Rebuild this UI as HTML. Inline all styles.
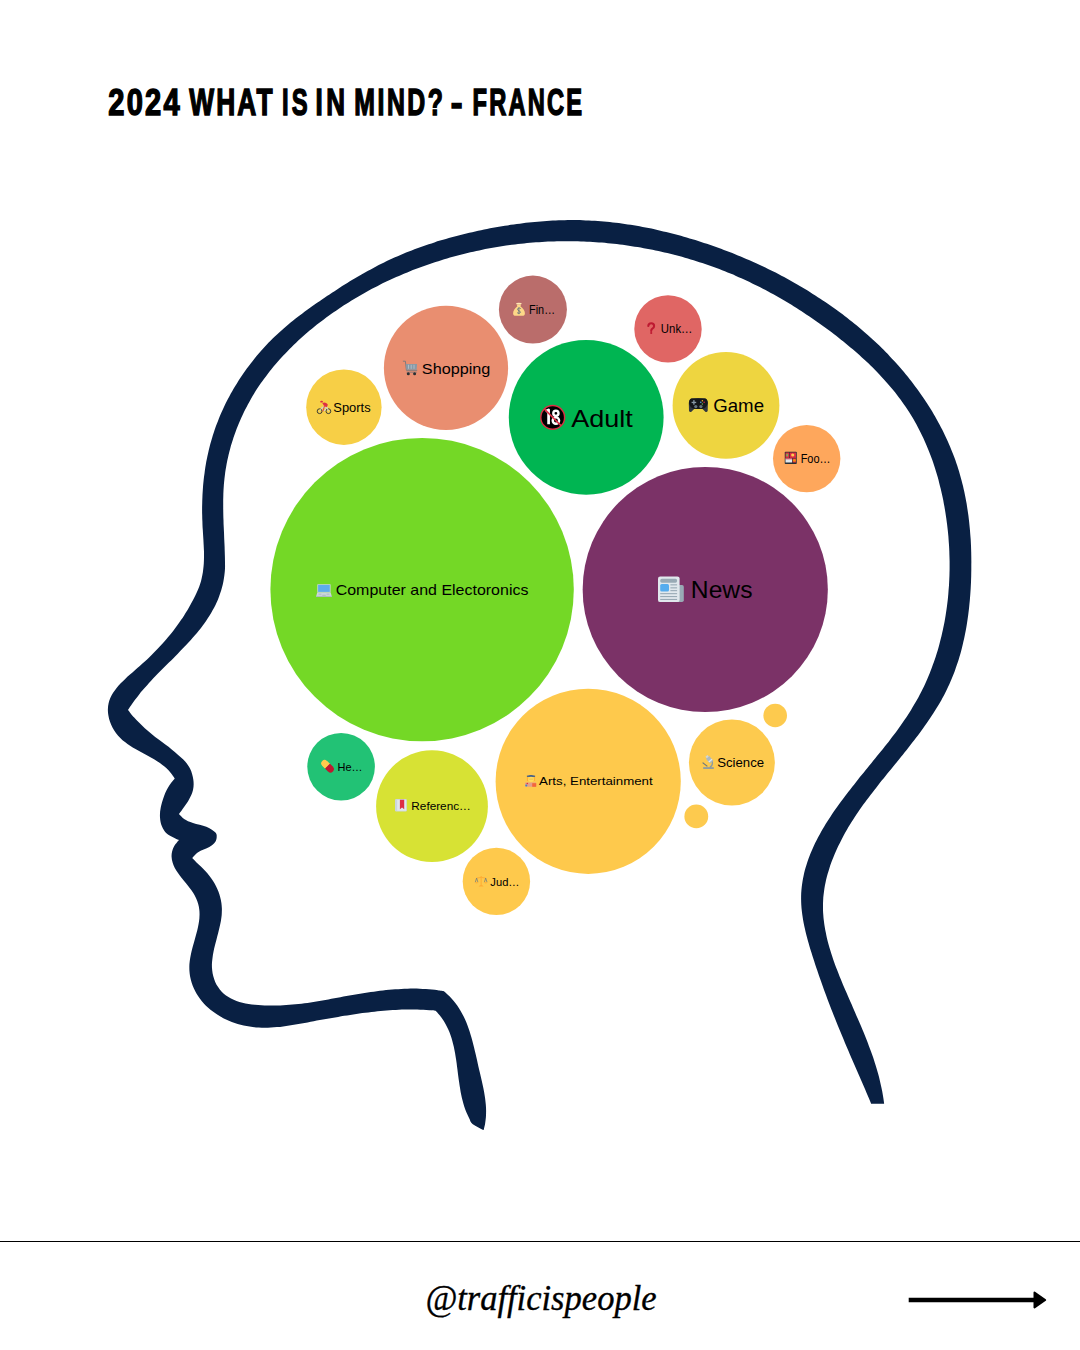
<!DOCTYPE html>
<html><head><meta charset="utf-8"><title>2024 What is in mind - France</title><style>
html,body{margin:0;padding:0;background:#fff;}
body{width:1080px;height:1350px;overflow:hidden;position:relative;}
svg{position:absolute;left:0;top:0;display:block;}
</style></head><body>
<svg width="1080" height="1350" viewBox="0 0 1080 1350">
<rect width="1080" height="1350" fill="#ffffff"/>
<text transform="translate(108.34,0) scale(0.7770,1)" x="0" y="114.90" font-family="Liberation Sans, sans-serif" font-weight="bold" font-size="37.40" fill="#000" stroke="#000" stroke-width="1.50" stroke-linejoin="miter" textLength="91.79" lengthAdjust="spacing">2024</text>
<text transform="translate(189.29,0) scale(0.7034,1)" x="0" y="114.90" font-family="Liberation Sans, sans-serif" font-weight="bold" font-size="37.40" fill="#000" stroke="#000" stroke-width="1.50" stroke-linejoin="miter" textLength="118.26" lengthAdjust="spacing">WHAT</text>
<text transform="translate(282.08,0) scale(0.6360,1)" x="0" y="114.90" font-family="Liberation Sans, sans-serif" font-weight="bold" font-size="37.40" fill="#000" stroke="#000" stroke-width="1.50" stroke-linejoin="miter" textLength="40.33" lengthAdjust="spacing">IS</text>
<text transform="translate(315.53,0) scale(0.6939,1)" x="0" y="114.90" font-family="Liberation Sans, sans-serif" font-weight="bold" font-size="37.40" fill="#000" stroke="#000" stroke-width="1.50" stroke-linejoin="miter" textLength="42.35" lengthAdjust="spacing">IN</text>
<text transform="translate(354.36,0) scale(0.6643,1)" x="0" y="114.90" font-family="Liberation Sans, sans-serif" font-weight="bold" font-size="37.40" fill="#000" stroke="#000" stroke-width="1.50" stroke-linejoin="miter" textLength="133.25" lengthAdjust="spacing">MIND?</text>
<text transform="translate(450.86,0) scale(0.8440,1)" x="0" y="114.90" font-family="Liberation Sans, sans-serif" font-weight="bold" font-size="37.40" fill="#000" stroke="#000" stroke-width="1.50" stroke-linejoin="miter" textLength="13.95" lengthAdjust="spacingAndGlyphs">-</text>
<text transform="translate(472.50,0) scale(0.6338,1)" x="0" y="114.90" font-family="Liberation Sans, sans-serif" font-weight="bold" font-size="37.40" fill="#000" stroke="#000" stroke-width="1.50" stroke-linejoin="miter" textLength="172.90" lengthAdjust="spacing">FRANCE</text>
<path d="M483.6,1130.1 C483.6,1130.1 484.7,1125.8 485.1,1123.7 C485.4,1121.6 485.7,1119.4 485.9,1117.3 C486.0,1115.2 486.1,1113.1 486.1,1110.9 C486.1,1108.8 486.0,1106.7 485.8,1104.6 C485.6,1102.5 485.4,1100.4 485.1,1098.2 C484.8,1096.1 484.5,1094.0 484.1,1091.9 C483.7,1089.8 483.3,1087.7 482.8,1085.5 C482.4,1083.4 481.9,1081.3 481.4,1079.2 C480.9,1077.1 480.4,1074.9 479.9,1072.8 C479.4,1070.7 478.9,1068.5 478.4,1066.4 C477.9,1064.3 477.5,1062.1 477.0,1060.0 C476.5,1057.8 476.0,1055.7 475.5,1053.6 C475.0,1051.4 474.5,1049.3 474.0,1047.2 C473.5,1045.1 473.0,1043.0 472.4,1040.9 C471.8,1038.8 471.3,1036.7 470.6,1034.7 C470.0,1032.6 469.3,1030.6 468.6,1028.5 C467.9,1026.5 467.2,1024.5 466.4,1022.6 C465.5,1020.6 464.7,1018.7 463.8,1016.8 C462.8,1014.9 461.8,1013.0 460.8,1011.2 C459.7,1009.3 458.6,1007.5 457.4,1005.8 C456.2,1004.0 454.9,1002.3 453.5,1000.7 C452.1,999.0 450.6,997.4 449.0,995.8 C447.5,994.2 444.0,991.2 444.0,991.2 C444.0,991.2 440.0,990.6 437.9,990.3 C435.9,990.0 433.9,989.7 431.9,989.5 C429.9,989.3 427.8,989.2 425.8,989.0 C423.8,988.9 421.7,988.8 419.7,988.7 C417.7,988.6 415.6,988.6 413.6,988.6 C411.5,988.6 409.5,988.6 407.5,988.7 C405.4,988.7 403.4,988.8 401.3,988.9 C399.3,989.0 397.2,989.1 395.2,989.3 C393.2,989.4 391.1,989.6 389.1,989.8 C387.0,990.0 385.0,990.2 383.0,990.5 C380.9,990.7 378.9,991.0 376.8,991.2 C374.8,991.5 372.8,991.8 370.7,992.1 C368.7,992.4 366.7,992.7 364.6,993.0 C362.6,993.3 360.6,993.6 358.5,994.0 C356.5,994.3 354.5,994.7 352.5,995.0 C350.4,995.4 348.4,995.7 346.4,996.1 C344.4,996.5 342.4,996.8 340.4,997.2 C338.4,997.5 336.4,997.9 334.4,998.3 C332.4,998.6 330.4,999.0 328.4,999.4 C326.4,999.7 324.4,1000.1 322.4,1000.4 C320.4,1000.8 318.4,1001.1 316.4,1001.4 C314.4,1001.8 312.5,1002.1 310.5,1002.4 C308.5,1002.7 306.5,1003.0 304.5,1003.2 C302.5,1003.5 300.5,1003.8 298.5,1004.0 C296.5,1004.2 294.4,1004.4 292.4,1004.6 C290.4,1004.8 288.4,1005.0 286.3,1005.1 C284.3,1005.2 282.2,1005.4 280.2,1005.4 C278.1,1005.5 276.1,1005.6 274.0,1005.6 C271.9,1005.6 269.8,1005.6 267.7,1005.6 C265.6,1005.5 263.5,1005.4 261.4,1005.3 C259.3,1005.2 257.1,1005.0 255.0,1004.8 C252.8,1004.6 250.7,1004.3 248.6,1004.0 C246.5,1003.6 244.4,1003.2 242.4,1002.7 C240.4,1002.2 238.4,1001.7 236.5,1001.0 C234.6,1000.3 232.8,999.5 231.0,998.6 C229.3,997.7 227.6,996.7 226.0,995.6 C224.5,994.4 223.0,993.1 221.7,991.7 C220.4,990.3 219.1,988.8 218.1,987.1 C217.0,985.5 216.0,983.7 215.2,981.9 C214.4,980.1 213.8,978.2 213.3,976.3 C212.7,974.3 212.4,972.3 212.2,970.3 C211.9,968.3 211.9,966.3 211.9,964.2 C212.0,962.2 212.2,960.1 212.5,958.0 C212.7,955.9 213.1,953.9 213.5,951.8 C213.9,949.7 214.4,947.6 214.9,945.6 C215.4,943.5 216.0,941.4 216.5,939.4 C217.0,937.3 217.6,935.2 218.1,933.2 C218.6,931.1 219.2,929.1 219.6,927.1 C220.1,925.0 220.5,923.0 220.9,921.0 C221.2,919.0 221.5,916.9 221.7,914.9 C221.8,912.9 221.9,910.9 221.9,908.9 C221.8,907.0 221.7,905.0 221.4,903.0 C221.1,901.0 220.7,899.1 220.2,897.2 C219.7,895.2 219.1,893.3 218.4,891.5 C217.7,889.6 216.8,887.8 215.9,886.0 C215.0,884.2 214.0,882.4 212.9,880.7 C211.8,879.0 210.6,877.3 209.3,875.7 C208.1,874.1 206.7,872.5 205.3,871.0 C203.9,869.5 202.4,868.1 200.9,866.6 C199.5,865.2 197.9,863.8 196.5,862.4 C195.0,860.9 192.2,858.1 192.2,858.1 C192.2,858.1 195.2,854.1 198.1,852.2 C200.9,850.4 206.5,848.7 209.3,847.0 C212.2,845.3 214.0,843.6 215.2,841.9 C216.4,840.2 216.7,838.3 216.7,836.7 C216.7,835.1 216.9,833.9 215.2,832.2 C213.5,830.5 210.0,828.2 206.3,826.7 C202.6,825.2 196.7,824.3 193.0,823.0 C189.3,821.7 186.4,820.4 184.1,818.9 C181.8,817.4 178.9,814.1 178.9,814.1 C178.9,814.1 186.2,804.4 188.5,800.4 C190.8,796.4 192.2,793.5 193.0,790.0 C193.8,786.5 193.8,783.2 193.3,779.6 C192.8,776.0 191.7,771.8 190.0,768.5 C188.3,765.2 186.4,762.8 183.3,759.6 C180.2,756.4 175.8,752.7 171.7,749.4 C167.6,746.1 163.2,743.1 158.7,739.6 C154.2,736.1 148.9,731.9 144.8,728.2 C140.7,724.5 137.0,720.7 134.2,717.6 C131.4,714.5 128.1,709.9 128.1,709.9 C128.1,709.9 130.3,706.5 131.5,704.8 C132.6,703.1 133.8,701.4 135.0,699.7 C136.3,698.1 137.5,696.5 138.8,694.9 C140.1,693.2 141.4,691.6 142.8,690.1 C144.1,688.5 145.5,686.9 146.9,685.4 C148.3,683.8 149.7,682.3 151.1,680.7 C152.6,679.2 154.0,677.7 155.5,676.1 C156.9,674.6 158.4,673.1 159.9,671.6 C161.4,670.1 162.9,668.6 164.4,667.1 C165.9,665.6 167.4,664.1 168.9,662.6 C170.4,661.1 171.9,659.7 173.4,658.2 C174.8,656.7 176.3,655.2 177.8,653.7 C179.3,652.2 180.8,650.7 182.2,649.1 C183.7,647.6 185.1,646.1 186.6,644.6 C188.0,643.1 189.4,641.5 190.8,640.0 C192.2,638.4 193.6,636.9 194.9,635.3 C196.3,633.7 197.6,632.1 198.9,630.5 C200.2,628.9 201.4,627.3 202.6,625.7 C203.9,624.0 205.1,622.4 206.2,620.7 C207.4,619.0 208.5,617.3 209.6,615.6 C210.6,613.9 211.7,612.1 212.6,610.3 C213.6,608.6 214.6,606.8 215.5,604.9 C216.3,603.1 217.2,601.3 218.0,599.4 C218.7,597.5 219.5,595.6 220.1,593.6 C220.8,591.7 221.4,589.7 221.9,587.7 C222.5,585.7 223.0,583.6 223.4,581.5 C223.8,579.4 224.1,577.3 224.4,575.1 C224.7,573.0 224.9,570.6 225.0,568.5 C225.1,566.4 225.0,564.5 225.0,562.5 C225.0,560.5 224.9,558.5 224.9,556.5 C224.8,554.5 224.8,552.5 224.7,550.5 C224.7,548.5 224.6,546.5 224.5,544.5 C224.4,542.5 224.3,540.5 224.2,538.5 C224.1,536.5 224.1,534.5 224.0,532.5 C223.9,530.5 223.8,528.4 223.7,526.4 C223.6,524.4 223.5,522.4 223.5,520.4 C223.4,518.4 223.3,516.4 223.3,514.4 C223.3,512.4 223.2,510.3 223.2,508.3 C223.2,506.3 223.2,504.3 223.2,502.3 C223.2,500.3 223.2,498.3 223.3,496.3 C223.3,494.3 223.4,492.3 223.5,490.3 C223.6,488.3 223.8,486.3 223.9,484.3 C224.1,482.3 224.3,480.3 224.5,478.3 C224.7,476.3 225.0,474.4 225.2,472.4 C225.5,470.4 225.8,468.4 226.2,466.4 C226.5,464.5 226.9,462.5 227.3,460.5 C227.7,458.6 228.2,456.6 228.6,454.7 C229.1,452.7 229.6,450.8 230.1,448.9 C230.6,446.9 231.2,445.0 231.8,443.1 C232.4,441.2 233.0,439.2 233.6,437.3 C234.3,435.4 234.9,433.5 235.6,431.7 C236.3,429.8 237.0,427.9 237.8,426.0 C238.5,424.2 239.3,422.3 240.1,420.5 C240.9,418.6 241.7,416.8 242.6,415.0 C243.4,413.1 244.3,411.3 245.2,409.5 C246.1,407.7 247.1,406.0 248.0,404.2 C249.0,402.4 249.9,400.7 250.9,398.9 C251.9,397.2 253.0,395.4 254.0,393.7 C255.1,392.0 256.1,390.3 257.2,388.6 C258.3,387.0 259.5,385.3 260.6,383.6 C261.7,382.0 262.9,380.3 264.1,378.7 C265.3,377.1 266.5,375.5 267.7,373.9 C268.9,372.3 270.2,370.7 271.4,369.2 C272.7,367.6 274.0,366.1 275.3,364.5 C276.6,363.0 277.9,361.5 279.2,360.0 C280.6,358.5 281.9,357.0 283.3,355.5 C284.7,354.1 286.0,352.6 287.5,351.2 C288.9,349.7 290.3,348.3 291.7,346.9 C293.1,345.5 294.6,344.1 296.1,342.7 C297.5,341.3 299.0,339.9 300.5,338.6 C302.0,337.2 303.5,335.9 305.0,334.6 C306.5,333.2 308.1,331.9 309.6,330.6 C311.2,329.4 312.7,328.1 314.3,326.8 C315.9,325.5 317.4,324.3 319.0,323.1 C320.6,321.8 322.2,320.6 323.8,319.4 C325.4,318.2 327.0,317.0 328.7,315.8 C330.3,314.6 331.9,313.5 333.6,312.3 C335.2,311.2 336.9,310.0 338.5,308.9 C340.2,307.8 341.9,306.7 343.5,305.6 C345.2,304.5 346.9,303.4 348.6,302.4 C350.3,301.3 352.0,300.3 353.7,299.2 C355.4,298.2 357.1,297.2 358.9,296.2 C360.6,295.2 362.3,294.2 364.1,293.2 C365.8,292.2 367.6,291.2 369.3,290.3 C371.1,289.3 372.8,288.4 374.6,287.5 C376.4,286.6 378.2,285.6 379.9,284.7 C381.7,283.9 383.5,283.0 385.3,282.1 C387.1,281.2 388.9,280.4 390.8,279.5 C392.6,278.7 394.4,277.9 396.2,277.1 C398.0,276.3 399.9,275.5 401.7,274.7 C403.6,273.9 405.4,273.1 407.3,272.4 C409.1,271.6 411.0,270.9 412.8,270.1 C414.7,269.4 416.6,268.7 418.5,268.0 C420.3,267.3 422.2,266.6 424.1,265.9 C426.0,265.2 427.9,264.6 429.8,263.9 C431.7,263.3 433.6,262.6 435.5,262.0 C437.4,261.4 439.4,260.8 441.3,260.2 C443.2,259.6 445.1,259.0 447.1,258.5 C449.0,257.9 450.9,257.3 452.9,256.8 C454.8,256.3 456.8,255.7 458.7,255.2 C460.7,254.7 462.6,254.2 464.6,253.7 C466.5,253.2 468.5,252.8 470.4,252.3 C472.4,251.9 474.4,251.4 476.3,251.0 C478.3,250.6 480.3,250.1 482.3,249.7 C484.2,249.3 486.2,249.0 488.2,248.6 C490.2,248.2 492.2,247.9 494.1,247.5 C496.1,247.2 498.1,246.8 500.1,246.5 C502.1,246.2 504.1,245.9 506.1,245.6 C508.1,245.3 510.0,245.0 512.0,244.8 C514.0,244.5 516.0,244.3 518.0,244.0 C520.0,243.8 522.0,243.6 524.0,243.4 C526.0,243.2 528.0,243.0 530.0,242.8 C532.0,242.6 534.0,242.5 536.0,242.3 C538.0,242.2 540.0,242.1 542.0,241.9 C544.0,241.8 546.0,241.7 548.0,241.6 C550.0,241.5 552.0,241.5 554.0,241.4 C556.0,241.3 557.9,241.3 559.9,241.3 C561.9,241.2 563.9,241.2 565.9,241.2 C567.9,241.2 569.9,241.2 571.9,241.2 C573.9,241.2 575.9,241.3 577.9,241.3 C579.9,241.4 581.9,241.5 583.9,241.5 C585.9,241.6 587.9,241.7 589.9,241.8 C591.9,241.9 593.9,242.0 595.9,242.2 C597.9,242.3 599.9,242.5 601.9,242.6 C603.9,242.8 605.9,243.0 607.8,243.2 C609.8,243.4 611.8,243.6 613.8,243.8 C615.8,244.0 617.8,244.2 619.8,244.5 C621.8,244.7 623.8,245.0 625.8,245.3 C627.8,245.6 629.8,245.8 631.7,246.2 C633.7,246.5 635.7,246.8 637.7,247.1 C639.7,247.4 641.7,247.8 643.7,248.2 C645.7,248.5 647.6,248.9 649.6,249.3 C651.6,249.7 653.6,250.1 655.5,250.5 C657.5,250.9 659.5,251.3 661.5,251.8 C663.4,252.2 665.4,252.7 667.4,253.1 C669.3,253.6 671.3,254.1 673.2,254.6 C675.2,255.1 677.1,255.6 679.1,256.1 C681.0,256.7 683.0,257.2 684.9,257.8 C686.9,258.3 688.8,258.9 690.7,259.5 C692.7,260.0 694.6,260.6 696.5,261.2 C698.4,261.8 700.4,262.5 702.3,263.1 C704.2,263.7 706.1,264.4 708.0,265.0 C709.9,265.7 711.8,266.4 713.7,267.0 C715.5,267.7 717.4,268.4 719.3,269.1 C721.2,269.9 723.0,270.6 724.9,271.3 C726.7,272.1 728.6,272.8 730.4,273.6 C732.3,274.3 734.1,275.1 736.0,275.9 C737.8,276.7 739.6,277.5 741.4,278.3 C743.2,279.1 745.1,280.0 746.9,280.8 C748.7,281.6 750.5,282.5 752.2,283.4 C754.0,284.2 755.8,285.1 757.6,286.0 C759.4,286.9 761.1,287.8 762.9,288.7 C764.7,289.6 766.4,290.5 768.2,291.5 C769.9,292.4 771.7,293.4 773.4,294.3 C775.2,295.3 776.9,296.3 778.6,297.3 C780.4,298.2 782.1,299.2 783.8,300.3 C785.5,301.3 787.2,302.3 788.9,303.3 C790.6,304.4 792.3,305.4 794.0,306.5 C795.7,307.5 797.4,308.6 799.1,309.7 C800.8,310.7 802.5,311.8 804.1,312.9 C805.8,314.0 807.5,315.2 809.1,316.3 C810.8,317.4 812.5,318.5 814.1,319.7 C815.8,320.8 817.4,322.0 819.1,323.2 C820.7,324.3 822.4,325.5 824.0,326.7 C825.6,327.9 827.3,329.1 828.9,330.3 C830.5,331.5 832.1,332.7 833.8,334.0 C835.4,335.2 837.0,336.5 838.6,337.7 C840.2,339.0 841.8,340.2 843.4,341.5 C845.0,342.8 846.5,344.1 848.1,345.4 C849.7,346.7 851.2,348.0 852.8,349.3 C854.3,350.6 855.9,352.0 857.4,353.3 C858.9,354.7 860.4,356.0 861.9,357.4 C863.5,358.8 864.9,360.2 866.4,361.6 C867.9,362.9 869.4,364.4 870.8,365.8 C872.3,367.2 873.7,368.6 875.1,370.1 C876.6,371.5 878.0,373.0 879.4,374.4 C880.7,375.9 882.1,377.4 883.5,378.9 C884.8,380.3 886.2,381.9 887.5,383.4 C888.8,384.9 890.1,386.4 891.4,388.0 C892.7,389.5 894.0,391.0 895.2,392.6 C896.4,394.2 897.7,395.8 898.9,397.4 C900.1,398.9 901.3,400.6 902.4,402.2 C903.6,403.8 904.7,405.4 905.8,407.1 C906.9,408.7 908.0,410.4 909.1,412.0 C910.1,413.7 911.2,415.4 912.2,417.1 C913.2,418.8 914.2,420.5 915.2,422.2 C916.2,423.9 917.1,425.7 918.0,427.4 C919.0,429.2 919.9,430.9 920.7,432.7 C921.6,434.5 922.5,436.3 923.3,438.0 C924.1,439.8 924.9,441.6 925.7,443.4 C926.5,445.3 927.3,447.1 928.0,448.9 C928.8,450.7 929.5,452.6 930.2,454.4 C930.9,456.3 931.6,458.2 932.3,460.0 C932.9,461.9 933.6,463.8 934.2,465.7 C934.8,467.6 935.4,469.5 936.0,471.4 C936.6,473.3 937.1,475.2 937.7,477.1 C938.2,479.0 938.7,480.9 939.2,482.9 C939.7,484.8 940.2,486.8 940.7,488.7 C941.2,490.6 941.6,492.6 942.0,494.6 C942.5,496.5 942.9,498.5 943.3,500.5 C943.6,502.4 944.0,504.4 944.4,506.4 C944.7,508.4 945.1,510.4 945.4,512.4 C945.7,514.4 946.0,516.4 946.3,518.4 C946.6,520.4 946.8,522.4 947.1,524.4 C947.3,526.4 947.6,528.4 947.8,530.4 C948.0,532.4 948.2,534.5 948.4,536.5 C948.5,538.5 948.7,540.5 948.8,542.6 C949.0,544.6 949.1,546.6 949.2,548.7 C949.3,550.7 949.4,552.7 949.4,554.8 C949.5,556.8 949.5,558.8 949.6,560.9 C949.6,562.9 949.6,564.9 949.6,567.0 C949.6,569.0 949.6,571.0 949.5,573.1 C949.5,575.1 949.4,577.1 949.3,579.1 C949.2,581.2 949.1,583.2 949.0,585.2 C948.8,587.3 948.7,589.3 948.5,591.3 C948.4,593.3 948.2,595.4 948.0,597.4 C947.8,599.4 947.6,601.4 947.3,603.4 C947.1,605.4 946.8,607.4 946.5,609.4 C946.2,611.4 945.9,613.4 945.6,615.4 C945.3,617.4 944.9,619.4 944.6,621.4 C944.2,623.4 943.8,625.4 943.4,627.3 C943.0,629.3 942.6,631.3 942.1,633.2 C941.7,635.2 941.2,637.1 940.7,639.1 C940.2,641.0 939.7,643.0 939.2,644.9 C938.7,646.8 938.1,648.8 937.6,650.7 C937.0,652.6 936.4,654.5 935.8,656.4 C935.2,658.3 934.5,660.2 933.9,662.1 C933.2,663.9 932.5,665.8 931.8,667.7 C931.1,669.5 930.4,671.4 929.7,673.2 C928.9,675.1 928.2,676.9 927.4,678.7 C926.6,680.5 925.8,682.4 925.0,684.2 C924.1,686.0 923.3,687.7 922.4,689.5 C921.5,691.3 920.6,693.1 919.7,694.8 C918.8,696.6 917.9,698.3 916.9,700.0 C915.9,701.7 914.9,703.4 913.9,705.1 C912.9,706.8 911.9,708.5 910.9,710.2 C909.8,711.9 908.8,713.6 907.7,715.2 C906.6,716.9 905.5,718.5 904.4,720.1 C903.3,721.8 902.1,723.4 901.0,725.0 C899.8,726.7 898.7,728.3 897.5,729.9 C896.3,731.5 895.1,733.1 893.9,734.7 C892.7,736.3 891.5,737.8 890.3,739.4 C889.1,741.0 887.9,742.6 886.6,744.2 C885.4,745.7 884.1,747.3 882.9,748.9 C881.6,750.5 880.4,752.0 879.1,753.6 C877.8,755.2 876.6,756.7 875.3,758.3 C874.0,759.9 872.7,761.4 871.5,763.0 C870.2,764.5 868.9,766.1 867.6,767.7 C866.3,769.3 865.1,770.8 863.8,772.4 C862.5,774.0 861.2,775.5 859.9,777.1 C858.7,778.7 857.4,780.3 856.1,781.9 C854.8,783.5 853.6,785.1 852.3,786.7 C851.1,788.3 849.8,789.9 848.6,791.5 C847.3,793.1 846.1,794.7 844.8,796.4 C843.6,798.0 842.4,799.6 841.2,801.3 C840.0,802.9 838.8,804.6 837.6,806.2 C836.4,807.9 835.2,809.6 834.0,811.3 C832.9,813.0 831.7,814.6 830.6,816.4 C829.5,818.1 828.4,819.8 827.3,821.5 C826.2,823.2 825.1,824.9 824.1,826.7 C823.1,828.4 822.0,830.2 821.0,831.9 C820.0,833.7 819.1,835.5 818.1,837.2 C817.2,839.0 816.3,840.8 815.4,842.6 C814.5,844.4 813.7,846.2 812.9,848.0 C812.1,849.8 811.3,851.6 810.5,853.4 C809.8,855.3 809.1,857.1 808.4,859.0 C807.8,860.8 807.1,862.7 806.6,864.5 C806.0,866.4 805.4,868.3 804.9,870.1 C804.4,872.0 804.0,873.9 803.6,875.8 C803.2,877.7 802.8,879.6 802.5,881.5 C802.2,883.4 801.9,885.4 801.7,887.3 C801.5,889.2 801.3,891.2 801.2,893.1 C801.1,895.1 801.1,897.0 801.1,899.0 C801.1,900.9 801.2,902.9 801.3,904.9 C801.4,906.9 801.6,908.9 801.8,910.8 C802.0,912.8 802.3,914.8 802.6,916.8 C802.9,918.8 803.2,920.8 803.6,922.8 C804.0,924.8 804.4,926.8 804.9,928.8 C805.3,930.8 805.8,932.8 806.3,934.8 C806.8,936.8 807.4,938.8 807.9,940.8 C808.5,942.8 809.1,944.8 809.6,946.8 C810.2,948.8 810.8,950.8 811.5,952.7 C812.1,954.7 812.7,956.6 813.3,958.6 C814.0,960.5 814.6,962.5 815.2,964.4 C815.9,966.3 816.5,968.3 817.2,970.2 C817.8,972.1 818.4,974.0 819.1,975.9 C819.8,977.8 820.4,979.7 821.1,981.6 C821.7,983.4 822.4,985.3 823.1,987.2 C823.7,989.1 824.4,990.9 825.1,992.8 C825.8,994.7 826.5,996.5 827.2,998.4 C827.9,1000.3 828.6,1002.1 829.3,1004.0 C830.0,1005.8 830.7,1007.7 831.4,1009.6 C832.2,1011.4 832.9,1013.3 833.6,1015.1 C834.4,1017.0 835.1,1018.8 835.9,1020.7 C836.6,1022.5 837.4,1024.4 838.1,1026.2 C838.9,1028.1 839.6,1029.9 840.4,1031.8 C841.2,1033.6 841.9,1035.5 842.7,1037.3 C843.5,1039.2 844.2,1041.0 845.0,1042.9 C845.8,1044.7 846.6,1046.5 847.4,1048.4 C848.2,1050.2 849.0,1052.1 849.7,1053.9 C850.5,1055.8 851.3,1057.6 852.1,1059.5 C852.9,1061.3 853.7,1063.1 854.5,1065.0 C855.3,1066.8 856.1,1068.7 856.9,1070.5 C857.7,1072.4 858.5,1074.2 859.3,1076.1 C860.1,1077.9 860.9,1079.7 861.7,1081.6 C862.5,1083.4 863.3,1085.3 864.1,1087.1 C864.9,1089.0 865.7,1090.8 866.5,1092.7 C867.3,1094.5 868.1,1096.4 868.9,1098.2 C869.7,1100.1 871.2,1103.8 871.2,1103.8 C871.2,1103.8 884.2,1103.8 884.2,1103.8 C884.2,1103.8 883.6,1099.7 883.3,1097.7 C883.0,1095.6 882.6,1093.6 882.3,1091.7 C881.9,1089.7 881.5,1087.7 881.0,1085.7 C880.6,1083.8 880.2,1081.8 879.7,1079.9 C879.2,1077.9 878.7,1076.0 878.2,1074.1 C877.7,1072.2 877.1,1070.3 876.6,1068.4 C876.0,1066.5 875.4,1064.6 874.8,1062.7 C874.2,1060.8 873.6,1058.9 873.0,1057.0 C872.3,1055.2 871.7,1053.3 871.0,1051.4 C870.3,1049.6 869.6,1047.7 868.9,1045.9 C868.2,1044.0 867.5,1042.2 866.8,1040.3 C866.1,1038.5 865.3,1036.7 864.6,1034.8 C863.9,1033.0 863.1,1031.1 862.3,1029.3 C861.6,1027.5 860.8,1025.6 860.0,1023.8 C859.2,1021.9 858.4,1020.1 857.6,1018.3 C856.8,1016.4 856.0,1014.6 855.2,1012.7 C854.4,1010.9 853.6,1009.0 852.8,1007.2 C852.0,1005.3 851.2,1003.5 850.3,1001.6 C849.5,999.7 848.7,997.9 847.9,996.0 C847.1,994.1 846.2,992.2 845.4,990.3 C844.6,988.5 843.8,986.6 843.0,984.7 C842.2,982.8 841.4,980.9 840.7,979.0 C839.9,977.1 839.1,975.2 838.4,973.2 C837.6,971.3 836.9,969.4 836.1,967.5 C835.4,965.6 834.7,963.6 834.0,961.7 C833.4,959.8 832.7,957.9 832.1,955.9 C831.4,954.0 830.8,952.1 830.2,950.1 C829.6,948.2 829.1,946.2 828.5,944.3 C828.0,942.3 827.5,940.4 827.0,938.4 C826.6,936.5 826.1,934.5 825.8,932.6 C825.4,930.6 825.0,928.7 824.7,926.7 C824.4,924.8 824.1,922.8 823.9,920.9 C823.6,918.9 823.4,916.9 823.3,915.0 C823.1,913.0 823.0,911.1 823.0,909.1 C823.0,907.1 823.0,905.2 823.0,903.2 C823.1,901.3 823.2,899.3 823.3,897.3 C823.5,895.4 823.7,893.4 824.0,891.5 C824.2,889.5 824.6,887.6 824.9,885.6 C825.3,883.7 825.7,881.7 826.1,879.8 C826.6,877.8 827.1,875.9 827.6,874.0 C828.2,872.1 828.8,870.1 829.4,868.2 C830.0,866.3 830.6,864.4 831.3,862.5 C832.0,860.6 832.7,858.7 833.5,856.9 C834.3,855.0 835.1,853.1 835.9,851.3 C836.7,849.4 837.5,847.6 838.4,845.8 C839.3,844.0 840.2,842.1 841.1,840.4 C842.0,838.6 843.0,836.8 843.9,835.0 C844.9,833.3 845.9,831.5 846.9,829.8 C847.9,828.0 848.9,826.3 850.0,824.6 C851.0,822.9 852.1,821.2 853.2,819.5 C854.2,817.9 855.3,816.2 856.4,814.5 C857.6,812.9 858.7,811.2 859.8,809.6 C861.0,807.9 862.1,806.3 863.3,804.6 C864.5,803.0 865.7,801.4 866.9,799.8 C868.0,798.2 869.3,796.6 870.5,795.0 C871.7,793.4 872.9,791.8 874.2,790.2 C875.4,788.6 876.6,787.0 877.9,785.4 C879.1,783.8 880.4,782.2 881.7,780.6 C882.9,779.1 884.2,777.5 885.5,775.9 C886.8,774.3 888.0,772.7 889.3,771.2 C890.6,769.6 891.9,768.0 893.2,766.4 C894.5,764.9 895.8,763.3 897.1,761.7 C898.3,760.1 899.6,758.5 900.9,756.9 C902.2,755.4 903.5,753.8 904.7,752.2 C906.0,750.6 907.3,749.0 908.5,747.4 C909.8,745.8 911.1,744.2 912.3,742.6 C913.6,741.0 914.8,739.4 916.0,737.8 C917.3,736.2 918.5,734.6 919.7,732.9 C920.9,731.3 922.1,729.7 923.3,728.0 C924.4,726.4 925.6,724.8 926.8,723.1 C927.9,721.5 929.1,719.8 930.2,718.1 C931.3,716.5 932.4,714.8 933.5,713.1 C934.5,711.4 935.6,709.7 936.6,708.0 C937.7,706.3 938.7,704.6 939.7,702.9 C940.7,701.2 941.7,699.5 942.6,697.7 C943.6,696.0 944.5,694.2 945.4,692.4 C946.3,690.7 947.2,688.9 948.0,687.1 C948.8,685.3 949.7,683.5 950.4,681.7 C951.2,679.9 952.0,678.1 952.7,676.2 C953.5,674.4 954.2,672.5 954.9,670.7 C955.5,668.8 956.2,666.9 956.8,665.1 C957.5,663.2 958.1,661.3 958.7,659.4 C959.3,657.5 959.8,655.6 960.4,653.7 C960.9,651.8 961.4,649.8 961.9,647.9 C962.4,646.0 962.9,644.0 963.3,642.1 C963.8,640.2 964.2,638.2 964.6,636.2 C965.0,634.3 965.4,632.3 965.8,630.3 C966.1,628.4 966.5,626.4 966.8,624.4 C967.1,622.4 967.4,620.4 967.7,618.4 C968.0,616.5 968.3,614.5 968.5,612.5 C968.8,610.4 969.0,608.4 969.2,606.4 C969.4,604.4 969.6,602.4 969.8,600.4 C970.0,598.4 970.1,596.4 970.3,594.3 C970.4,592.3 970.6,590.3 970.7,588.3 C970.8,586.2 970.9,584.2 971.0,582.2 C971.1,580.2 971.1,578.1 971.2,576.1 C971.2,574.1 971.3,572.0 971.3,570.0 C971.3,568.0 971.3,565.9 971.3,563.9 C971.4,561.9 971.3,559.9 971.3,557.8 C971.3,555.8 971.2,553.8 971.2,551.8 C971.1,549.7 971.1,547.7 971.0,545.7 C970.9,543.7 970.8,541.6 970.7,539.6 C970.5,537.6 970.4,535.6 970.2,533.6 C970.1,531.6 969.9,529.6 969.7,527.5 C969.5,525.5 969.3,523.5 969.1,521.5 C968.9,519.5 968.6,517.5 968.4,515.5 C968.1,513.6 967.8,511.6 967.5,509.6 C967.2,507.6 966.9,505.6 966.6,503.6 C966.2,501.7 965.9,499.7 965.5,497.7 C965.1,495.8 964.7,493.8 964.3,491.8 C963.9,489.9 963.4,487.9 963.0,486.0 C962.5,484.1 962.0,482.1 961.5,480.2 C961.0,478.3 960.5,476.3 959.9,474.4 C959.4,472.5 958.8,470.6 958.2,468.7 C957.6,466.8 957.0,464.9 956.3,463.0 C955.7,461.1 955.0,459.2 954.3,457.3 C953.6,455.5 952.9,453.6 952.1,451.7 C951.4,449.9 950.6,448.0 949.9,446.2 C949.1,444.3 948.3,442.5 947.5,440.7 C946.6,438.9 945.8,437.0 944.9,435.2 C944.1,433.4 943.2,431.6 942.3,429.8 C941.4,428.1 940.4,426.3 939.5,424.5 C938.6,422.7 937.6,421.0 936.6,419.2 C935.6,417.5 934.6,415.7 933.6,414.0 C932.6,412.3 931.6,410.5 930.5,408.8 C929.4,407.1 928.4,405.4 927.3,403.7 C926.2,402.0 925.1,400.3 924.0,398.7 C922.8,397.0 921.7,395.3 920.5,393.7 C919.4,392.1 918.2,390.4 917.0,388.8 C915.8,387.2 914.6,385.5 913.4,383.9 C912.2,382.3 911.0,380.8 909.7,379.2 C908.5,377.6 907.2,376.0 905.9,374.5 C904.6,372.9 903.3,371.4 902.0,369.8 C900.7,368.3 899.4,366.8 898.1,365.3 C896.8,363.8 895.4,362.3 894.0,360.8 C892.7,359.3 891.3,357.9 889.9,356.4 C888.5,354.9 887.1,353.5 885.7,352.1 C884.3,350.6 882.9,349.2 881.5,347.8 C880.0,346.4 878.6,345.0 877.1,343.6 C875.7,342.2 874.2,340.8 872.7,339.5 C871.2,338.1 869.8,336.7 868.3,335.4 C866.8,334.1 865.2,332.7 863.7,331.4 C862.2,330.1 860.7,328.8 859.1,327.5 C857.6,326.2 856.0,324.9 854.5,323.7 C852.9,322.4 851.3,321.1 849.7,319.9 C848.2,318.7 846.6,317.4 845.0,316.2 C843.4,315.0 841.8,313.8 840.1,312.6 C838.5,311.4 836.9,310.2 835.3,309.0 C833.6,307.8 832.0,306.7 830.3,305.5 C828.7,304.4 827.0,303.2 825.3,302.1 C823.7,300.9 822.0,299.8 820.3,298.7 C818.6,297.6 817.0,296.5 815.3,295.4 C813.6,294.4 811.9,293.3 810.2,292.2 C808.5,291.2 806.7,290.1 805.0,289.1 C803.3,288.0 801.6,287.0 799.8,286.0 C798.1,285.0 796.4,284.0 794.6,283.0 C792.9,282.0 791.1,281.0 789.4,280.0 C787.6,279.0 785.9,278.1 784.1,277.1 C782.3,276.2 780.6,275.2 778.8,274.3 C777.0,273.4 775.2,272.5 773.4,271.6 C771.6,270.7 769.9,269.8 768.1,268.9 C766.3,268.0 764.4,267.1 762.6,266.3 C760.8,265.4 759.0,264.6 757.2,263.7 C755.4,262.9 753.5,262.1 751.7,261.3 C749.9,260.4 748.0,259.6 746.2,258.9 C744.4,258.1 742.5,257.3 740.7,256.5 C738.8,255.7 737.0,255.0 735.1,254.2 C733.2,253.5 731.4,252.7 729.5,252.0 C727.6,251.3 725.8,250.6 723.9,249.9 C722.0,249.2 720.1,248.5 718.2,247.8 C716.3,247.1 714.5,246.4 712.6,245.8 C710.7,245.1 708.8,244.5 706.9,243.8 C704.9,243.2 703.0,242.6 701.1,241.9 C699.2,241.3 697.3,240.7 695.4,240.1 C693.4,239.5 691.5,239.0 689.6,238.4 C687.7,237.8 685.7,237.3 683.8,236.7 C681.9,236.2 679.9,235.6 678.0,235.1 C676.0,234.6 674.1,234.0 672.1,233.5 C670.2,233.0 668.2,232.5 666.2,232.1 C664.3,231.6 662.3,231.1 660.4,230.7 C658.4,230.2 656.4,229.8 654.5,229.3 C652.5,228.9 650.5,228.5 648.5,228.1 C646.6,227.7 644.6,227.3 642.6,226.9 C640.6,226.6 638.6,226.2 636.7,225.8 C634.7,225.5 632.7,225.2 630.7,224.8 C628.7,224.5 626.7,224.2 624.7,223.9 C622.7,223.7 620.7,223.4 618.8,223.1 C616.8,222.9 614.8,222.6 612.8,222.4 C610.8,222.2 608.8,222.0 606.8,221.8 C604.8,221.6 602.8,221.4 600.8,221.2 C598.8,221.1 596.8,220.9 594.8,220.8 C592.8,220.7 590.8,220.6 588.8,220.5 C586.8,220.4 584.8,220.3 582.8,220.2 C580.8,220.2 578.8,220.2 576.8,220.1 C574.7,220.1 572.7,220.1 570.7,220.1 C568.7,220.1 566.7,220.1 564.7,220.2 C562.7,220.2 560.7,220.3 558.7,220.3 C556.7,220.4 554.7,220.5 552.7,220.6 C550.7,220.7 548.7,220.8 546.7,221.0 C544.7,221.1 542.7,221.2 540.7,221.4 C538.7,221.6 536.7,221.7 534.7,221.9 C532.7,222.1 530.7,222.3 528.8,222.5 C526.8,222.7 524.8,223.0 522.8,223.2 C520.8,223.5 518.8,223.7 516.8,224.0 C514.8,224.3 512.8,224.5 510.8,224.8 C508.8,225.1 506.9,225.4 504.9,225.8 C502.9,226.1 500.9,226.4 498.9,226.8 C496.9,227.1 495.0,227.5 493.0,227.8 C491.0,228.2 489.0,228.6 487.0,229.0 C485.1,229.3 483.1,229.7 481.1,230.2 C479.1,230.6 477.2,231.0 475.2,231.4 C473.2,231.9 471.3,232.3 469.3,232.8 C467.4,233.2 465.4,233.7 463.4,234.2 C461.5,234.7 459.5,235.2 457.6,235.7 C455.6,236.2 453.7,236.7 451.7,237.2 C449.8,237.7 447.9,238.3 445.9,238.9 C444.0,239.4 442.1,240.0 440.1,240.6 C438.2,241.2 436.3,241.7 434.4,242.4 C432.5,243.0 430.6,243.6 428.7,244.2 C426.8,244.9 424.9,245.5 423.0,246.2 C421.1,246.9 419.2,247.6 417.3,248.2 C415.4,248.9 413.5,249.7 411.7,250.4 C409.8,251.1 407.9,251.8 406.1,252.6 C404.2,253.4 402.4,254.1 400.5,254.9 C398.7,255.7 396.8,256.5 395.0,257.3 C393.2,258.1 391.3,259.0 389.5,259.8 C387.7,260.7 385.9,261.5 384.1,262.4 C382.3,263.3 380.5,264.2 378.7,265.1 C376.9,266.0 375.2,267.0 373.4,267.9 C371.6,268.8 369.9,269.8 368.1,270.8 C366.3,271.7 364.6,272.7 362.8,273.7 C361.1,274.7 359.4,275.7 357.6,276.7 C355.9,277.7 354.2,278.7 352.4,279.8 C350.7,280.8 349.0,281.9 347.3,282.9 C345.6,284.0 343.9,285.0 342.2,286.1 C340.5,287.2 338.8,288.3 337.1,289.4 C335.4,290.5 333.7,291.6 332.0,292.7 C330.4,293.8 328.7,294.9 327.0,296.0 C325.4,297.1 323.7,298.3 322.0,299.4 C320.4,300.5 318.7,301.7 317.1,302.8 C315.4,304.0 313.8,305.1 312.1,306.3 C310.5,307.5 308.9,308.6 307.3,309.8 C305.6,311.0 304.0,312.2 302.4,313.4 C300.8,314.6 299.2,315.8 297.6,317.1 C296.1,318.3 294.5,319.5 292.9,320.8 C291.4,322.0 289.8,323.3 288.3,324.6 C286.8,325.9 285.2,327.2 283.7,328.5 C282.2,329.8 280.7,331.1 279.2,332.5 C277.8,333.8 276.3,335.2 274.8,336.6 C273.4,338.0 272.0,339.4 270.5,340.8 C269.1,342.2 267.7,343.6 266.4,345.1 C265.0,346.6 263.6,348.0 262.3,349.5 C260.9,351.0 259.6,352.5 258.3,354.1 C257.0,355.6 255.7,357.2 254.4,358.7 C253.1,360.3 251.9,361.9 250.7,363.5 C249.4,365.1 248.2,366.7 247.0,368.3 C245.8,369.9 244.7,371.6 243.5,373.2 C242.4,374.9 241.2,376.6 240.1,378.3 C239.0,379.9 237.9,381.6 236.9,383.4 C235.8,385.1 234.7,386.8 233.7,388.5 C232.7,390.3 231.7,392.0 230.7,393.8 C229.8,395.6 228.8,397.4 227.9,399.1 C226.9,400.9 226.0,402.7 225.1,404.6 C224.3,406.4 223.4,408.2 222.6,410.0 C221.7,411.9 220.9,413.7 220.1,415.6 C219.4,417.4 218.6,419.3 217.9,421.2 C217.1,423.0 216.4,424.9 215.7,426.8 C215.1,428.7 214.4,430.6 213.8,432.5 C213.2,434.4 212.5,436.3 212.0,438.2 C211.4,440.2 210.8,442.1 210.3,444.0 C209.8,446.0 209.3,447.9 208.8,449.9 C208.4,451.8 207.9,453.8 207.5,455.7 C207.1,457.7 206.7,459.6 206.3,461.6 C206.0,463.6 205.6,465.5 205.3,467.5 C205.0,469.5 204.7,471.5 204.5,473.5 C204.2,475.5 203.9,477.5 203.7,479.4 C203.5,481.4 203.3,483.4 203.1,485.4 C203.0,487.4 202.8,489.4 202.7,491.4 C202.6,493.4 202.4,495.4 202.4,497.5 C202.3,499.5 202.2,501.5 202.2,503.5 C202.1,505.5 202.1,507.5 202.1,509.5 C202.1,511.5 202.1,513.5 202.2,515.6 C202.2,517.6 202.3,519.6 202.4,521.6 C202.4,523.6 202.5,525.6 202.6,527.6 C202.8,529.6 202.9,531.6 203.0,533.6 C203.1,535.7 203.3,537.7 203.4,539.7 C203.5,541.7 203.6,543.7 203.7,545.7 C203.8,547.7 203.9,549.7 204.0,551.6 C204.0,553.6 204.0,555.6 204.0,557.6 C204.0,559.6 203.9,561.6 203.8,563.6 C203.6,565.5 203.5,567.5 203.2,569.5 C203.0,571.4 202.7,573.4 202.3,575.3 C201.9,577.3 201.5,579.2 201.0,581.2 C200.4,583.1 199.9,585.0 199.1,587.0 C198.3,589.0 197.4,591.0 196.5,592.9 C195.6,594.9 194.6,596.8 193.7,598.7 C192.7,600.5 191.7,602.4 190.7,604.2 C189.7,606.1 188.7,607.9 187.7,609.7 C186.6,611.4 185.5,613.2 184.4,614.9 C183.3,616.7 182.2,618.4 181.0,620.1 C179.9,621.8 178.7,623.4 177.5,625.1 C176.3,626.7 175.1,628.4 173.9,630.0 C172.6,631.6 171.4,633.2 170.1,634.8 C168.8,636.4 167.5,637.9 166.1,639.5 C164.8,641.0 163.5,642.6 162.1,644.1 C160.7,645.6 159.3,647.1 157.9,648.6 C156.4,650.1 155.0,651.6 153.5,653.0 C152.1,654.5 150.6,656.0 149.1,657.4 C147.6,658.9 146.0,660.3 144.5,661.8 C142.9,663.2 141.4,664.6 139.8,666.1 C138.2,667.5 136.5,668.9 134.9,670.3 C133.3,671.7 131.6,673.2 130.0,674.6 C128.4,676.0 126.8,677.4 125.2,678.9 C123.7,680.3 122.1,681.8 120.7,683.3 C119.3,684.8 117.9,686.3 116.6,687.9 C115.3,689.5 114.2,691.1 113.1,692.7 C112.1,694.4 111.1,696.1 110.4,697.8 C109.6,699.6 109.0,701.4 108.6,703.3 C108.2,705.1 107.9,707.1 107.9,709.1 C107.8,711.1 108.0,713.3 108.4,715.4 C108.7,717.5 109.3,719.6 110.0,721.7 C110.7,723.8 111.6,725.9 112.6,727.8 C113.6,729.7 114.8,731.5 116.1,733.2 C117.4,734.9 118.8,736.5 120.3,737.9 C121.7,739.4 123.3,740.8 125.0,742.0 C126.6,743.3 128.3,744.5 130.1,745.7 C131.8,746.8 133.6,747.9 135.5,749.0 C137.3,750.0 139.1,751.0 140.9,752.0 C142.7,753.0 144.6,754.0 146.4,755.0 C148.2,756.0 150.0,756.9 151.8,758.0 C153.6,759.0 155.4,760.0 157.1,761.2 C158.8,762.3 160.5,763.4 162.1,764.7 C163.7,765.9 165.3,767.2 166.8,768.6 C168.3,770.1 169.7,771.6 171.0,773.2 C172.4,774.9 174.8,778.5 174.8,778.5 C174.8,778.5 171.1,782.7 169.3,785.6 C167.5,788.5 165.5,792.2 164.1,795.9 C162.7,799.6 161.4,804.2 160.7,807.8 C160.0,811.4 159.8,814.3 160.0,817.4 C160.2,820.5 160.7,823.6 161.9,826.3 C163.1,829.0 164.2,831.4 167.0,833.7 C169.8,836.0 178.9,840.0 178.9,840.0 C178.9,840.0 175.6,843.9 174.4,845.8 C173.3,847.7 172.6,849.6 172.1,851.5 C171.6,853.4 171.5,855.2 171.6,857.1 C171.7,858.9 172.0,860.7 172.6,862.5 C173.1,864.3 173.9,866.1 174.8,867.9 C175.7,869.6 176.8,871.3 178.0,873.0 C179.1,874.7 180.4,876.3 181.7,878.0 C183.0,879.6 184.4,881.3 185.8,882.9 C187.1,884.6 188.5,886.2 189.7,887.9 C191.0,889.6 192.3,891.3 193.3,893.0 C194.4,894.8 195.4,896.6 196.2,898.4 C197.0,900.2 197.7,902.1 198.2,904.0 C198.7,905.9 199.1,907.8 199.3,909.8 C199.5,911.7 199.6,913.7 199.5,915.6 C199.5,917.6 199.3,919.6 199.0,921.6 C198.7,923.6 198.3,925.6 197.9,927.6 C197.5,929.6 197.0,931.6 196.4,933.6 C195.9,935.7 195.3,937.7 194.7,939.7 C194.2,941.8 193.6,943.8 193.0,945.8 C192.5,947.9 191.9,949.9 191.4,952.0 C191.0,954.0 190.5,956.1 190.2,958.1 C189.9,960.2 189.6,962.2 189.4,964.3 C189.3,966.3 189.3,968.4 189.4,970.4 C189.5,972.5 189.8,974.5 190.1,976.5 C190.5,978.5 191.0,980.5 191.6,982.5 C192.2,984.5 193.0,986.4 193.8,988.3 C194.6,990.1 195.6,991.9 196.6,993.7 C197.6,995.5 198.8,997.1 200.0,998.8 C201.2,1000.4 202.5,1002.0 203.8,1003.5 C205.2,1005.0 206.6,1006.4 208.2,1007.7 C209.7,1009.1 211.2,1010.4 212.9,1011.6 C214.5,1012.9 216.2,1014.0 218.0,1015.1 C219.7,1016.2 221.5,1017.2 223.3,1018.2 C225.1,1019.1 227.0,1020.0 228.9,1020.8 C230.8,1021.6 232.8,1022.4 234.7,1023.0 C236.7,1023.7 238.6,1024.3 240.6,1024.8 C242.6,1025.3 244.6,1025.8 246.6,1026.1 C248.6,1026.5 250.6,1026.8 252.7,1027.0 C254.7,1027.3 256.7,1027.4 258.7,1027.5 C260.7,1027.7 262.8,1027.7 264.8,1027.7 C266.8,1027.7 268.9,1027.6 270.9,1027.5 C272.9,1027.4 275.0,1027.3 277.0,1027.1 C279.1,1026.9 281.1,1026.7 283.1,1026.4 C285.2,1026.2 287.2,1025.9 289.3,1025.6 C291.3,1025.3 293.4,1024.9 295.4,1024.6 C297.4,1024.3 299.5,1023.9 301.5,1023.5 C303.6,1023.2 305.6,1022.8 307.6,1022.4 C309.7,1022.0 311.7,1021.6 313.7,1021.2 C315.8,1020.9 317.8,1020.5 319.8,1020.1 C321.9,1019.7 323.9,1019.4 325.9,1019.0 C328.0,1018.6 330.0,1018.3 332.0,1017.9 C334.0,1017.6 336.1,1017.2 338.1,1016.9 C340.1,1016.5 342.1,1016.2 344.1,1015.8 C346.2,1015.5 348.2,1015.2 350.2,1014.9 C352.2,1014.6 354.2,1014.3 356.3,1014.0 C358.3,1013.7 360.3,1013.4 362.3,1013.1 C364.3,1012.9 366.4,1012.6 368.4,1012.4 C370.4,1012.1 372.4,1011.9 374.5,1011.7 C376.5,1011.4 378.5,1011.2 380.5,1011.1 C382.6,1010.9 384.6,1010.7 386.6,1010.5 C388.6,1010.4 390.7,1010.2 392.7,1010.1 C394.7,1010.0 396.8,1009.9 398.8,1009.8 C400.8,1009.7 402.9,1009.7 404.9,1009.6 C406.9,1009.6 409.0,1009.6 411.0,1009.6 C413.1,1009.6 415.1,1009.6 417.2,1009.6 C419.2,1009.7 421.3,1009.8 423.3,1009.8 C425.4,1009.9 427.4,1010.1 429.5,1010.2 C431.6,1010.3 435.7,1010.7 435.7,1010.7 C435.7,1010.7 438.7,1014.0 440.1,1015.7 C441.4,1017.4 442.6,1019.1 443.8,1020.9 C444.9,1022.7 445.9,1024.5 446.8,1026.4 C447.8,1028.3 448.6,1030.2 449.4,1032.1 C450.2,1034.1 450.8,1036.0 451.5,1038.0 C452.1,1040.0 452.6,1042.0 453.1,1044.1 C453.7,1046.1 454.1,1048.2 454.5,1050.3 C454.9,1052.3 455.3,1054.5 455.6,1056.6 C456.0,1058.7 456.3,1060.8 456.6,1062.9 C456.9,1065.0 457.1,1067.2 457.4,1069.3 C457.7,1071.5 457.9,1073.6 458.2,1075.7 C458.5,1077.9 458.8,1080.0 459.1,1082.1 C459.4,1084.3 459.7,1086.4 460.1,1088.5 C460.4,1090.6 460.8,1092.7 461.2,1094.7 C461.7,1096.8 462.1,1098.9 462.7,1100.9 C463.2,1102.9 463.8,1105.0 464.4,1106.9 C465.1,1108.9 465.8,1110.9 466.6,1112.8 C467.4,1114.7 468.3,1116.6 469.3,1118.5 C470.3,1120.3 470.1,1122.0 472.5,1123.9 C474.9,1125.8 483.6,1130.1 483.6,1130.1Z" fill="#092043"/>
<circle cx="422.10" cy="589.60" r="151.70" fill="#74d826"/>
<circle cx="705.25" cy="589.50" r="122.60" fill="#7b3267"/>
<circle cx="586.20" cy="417.30" r="77.40" fill="#00b552"/>
<circle cx="446.00" cy="367.90" r="62.10" fill="#e98e70"/>
<circle cx="726.00" cy="405.40" r="53.40" fill="#eed540"/>
<circle cx="343.90" cy="407.20" r="37.70" fill="#f7cf46"/>
<circle cx="532.90" cy="309.60" r="34.00" fill="#ba6d6b"/>
<circle cx="668.00" cy="328.90" r="33.70" fill="#e06664"/>
<circle cx="806.70" cy="458.60" r="33.70" fill="#fea75c"/>
<circle cx="588.20" cy="781.30" r="92.60" fill="#fec94c"/>
<circle cx="731.90" cy="762.60" r="43.00" fill="#fdca4e"/>
<circle cx="775.20" cy="715.50" r="11.80" fill="#fdca4e"/>
<circle cx="696.30" cy="816.40" r="11.90" fill="#fdca4e"/>
<circle cx="341.10" cy="766.70" r="33.80" fill="#22c275"/>
<circle cx="432.00" cy="806.20" r="55.90" fill="#d7e234"/>
<circle cx="496.40" cy="881.40" r="33.70" fill="#fec94c"/>
<g>
<rect x="317.3" y="584.2" width="13.3" height="8.1" rx="0.5" fill="#ccd6dd"/>
<rect x="318.1" y="584.9" width="11.7" height="7.0" fill="#5dadec"/>
<path d="M317.3,592.3 H330.6 L331.9,596.7 H316 Z" fill="#ccd6dd"/>
<rect x="316" y="595.9" width="15.9" height="0.8" fill="#a8b4c8"/>
<rect x="318.5" y="593.8" width="3" height="0.6" fill="#99aab5"/><rect x="326.5" y="593.8" width="3" height="0.6" fill="#99aab5"/><rect x="322.3" y="594.8" width="3.4" height="0.7" fill="#99aab5"/>
</g>
<rect x="676.5" y="585" width="7.3" height="17.1" rx="1.8" fill="#99aab5"/>
<rect x="658" y="576.4" width="21.6" height="25.7" rx="2.2" fill="#e1e8ed"/>
<rect x="660.2" y="578.8" width="16.9" height="3.9" rx="1.6" fill="#99aab5"/>
<rect x="660.2" y="584.1" width="8.8" height="7.4" rx="1.5" fill="#55acee"/>
<rect x="670.4" y="584.3" width="6.7" height="1.1" fill="#99aab5"/>
<rect x="670.4" y="587.3" width="6.7" height="1.1" fill="#99aab5"/>
<rect x="670.4" y="590.1" width="6.7" height="1.1" fill="#99aab5"/>
<rect x="660.2" y="593.1" width="16.9" height="1.1" fill="#99aab5"/>
<rect x="660.2" y="596.0" width="16.9" height="1.1" fill="#99aab5"/>
<rect x="660.2" y="598.9" width="16.9" height="1.1" fill="#99aab5"/>
<circle cx="552.7" cy="417.4" r="11.9" fill="#000" stroke="#dd2e44" stroke-width="1.4"/>
<path d="M545.6,411.3 L548.6,409.9 V424.3" fill="none" stroke="#fff" stroke-width="2.7" stroke-linejoin="round"/>
<circle cx="555.9" cy="413.3" r="2.6" fill="none" stroke="#fff" stroke-width="2.4"/><circle cx="555.9" cy="420.6" r="3.2" fill="none" stroke="#fff" stroke-width="2.4"/>
<line x1="544.2" y1="408.9" x2="561.2" y2="425.9" stroke="#dd2e44" stroke-width="1.5"/>
<path d="M403.3,361.2 H405.4 L406.4,370.3 H416.8" fill="none" stroke="#66757f" stroke-width="0.8" stroke-linecap="round"/>
<path d="M405.9,364 H417.1 L416.6,369.7 H406.4 Z" fill="#8899a6"/>
<path d="M408.5,364.8 V368.8 M411.2,364.8 V368.8 M414,364.8 V368.8" stroke="#ccd6dd" stroke-width="0.6"/>
<line x1="406.6" y1="372.2" x2="416.8" y2="372.2" stroke="#66757f" stroke-width="0.7"/>
<circle cx="408.3" cy="373.8" r="1.5" fill="#292f33"/><circle cx="414.6" cy="373.8" r="1.5" fill="#292f33"/>
<path d="M691.5,398.6 Q698.3,397.9 705.2,398.6 Q707.6,399.3 707.9,403 L707.7,410.8 Q707.2,412.4 705.6,411.9 L702,408.6 H694.7 L691.1,411.9 Q689.5,412.4 689,410.8 L688.8,403 Q689.1,399.3 691.5,398.6 Z" fill="#31373d"/>
<path d="M691.5,398.6 Q698.3,397.9 705.2,398.6 Q707.6,399.3 707.7,403 Q707,407.8 702,409 H694.7 Q689.7,407.8 689,403 Q689.1,399.3 691.5,398.6 Z" fill="#14171a"/>
<rect x="691.6" y="401.8" width="4.6" height="1.3" fill="#8899a6"/><rect x="693.25" y="400.1" width="1.3" height="4.6" fill="#8899a6"/>
<circle cx="702.4" cy="400.8" r="0.75" fill="#ffac33"/><circle cx="700.8" cy="402.3" r="0.75" fill="#55acee"/><circle cx="704.1" cy="402.3" r="0.75" fill="#dd2e44"/><circle cx="702.4" cy="403.9" r="0.75" fill="#77b255"/>
<circle cx="695.8" cy="406.6" r="1.6" fill="#66757f"/><circle cx="700.9" cy="406.6" r="1.6" fill="#66757f"/>
<circle cx="319.6" cy="411.2" r="2.4" fill="none" stroke="#292f33" stroke-width="0.9"/><circle cx="328.4" cy="411.2" r="2.4" fill="none" stroke="#292f33" stroke-width="0.9"/>
<path d="M319.6,411.2 L322.2,407.2 H327 L328.4,411.2 M322.2,407.2 L324.5,411 L327,407.2" fill="none" stroke="#ccd6dd" stroke-width="0.9"/>
<path d="M322.3,403.1 Q325.3,401.6 327.7,404.3 Q328,406.5 326.4,407.3 L323.8,405.5 Z" fill="#dd2e44"/><ellipse cx="321.6" cy="401.7" rx="1.4" ry="0.9" fill="#dd2e44"/>
<path d="M324.5,406 L322.8,411.5" stroke="#dd2e44" stroke-width="0.9"/>
<path d="M516.6,304.4 H521.2 L520.4,306.2 Q524.9,309.6 524.9,313.2 Q524.9,315.8 522.3,315.8 H515.7 Q513.1,315.8 513.1,313.2 Q513.1,309.6 517.4,306.2 Z" fill="#fdd888"/>
<ellipse cx="518.9" cy="303.6" rx="2.9" ry="0.9" fill="#ffe8b6"/>
<path d="M520.7,308.6 Q519.4,307.6 518.2,308.2 Q516.9,309 518.1,310.3 L519.8,311.2 Q521.1,312.2 519.8,313.1 Q518.6,313.8 517.1,312.7 M518.9,307.4 V314.2" fill="none" stroke="#67757f" stroke-width="0.9"/>
<path d="M648.3,326 Q648.5,323.3 651.2,323.3 Q654.1,323.3 654.1,325.9 Q654.1,327.7 652.4,328.7 Q651.2,329.4 651.2,331" fill="none" stroke="#be1931" stroke-width="2.1" stroke-linecap="round"/>
<circle cx="651.2" cy="333" r="1.1" fill="#be1931"/>
<rect x="784.75" y="451.75" width="12" height="12.25" rx="0.8" fill="#292f33"/>
<rect x="785.5" y="452.5" width="3.6" height="5.4" fill="#dd2e44"/><ellipse cx="787.2" cy="455.1" rx="1" ry="1.7" fill="#77b255"/>
<rect x="789.7" y="452.5" width="6.3" height="5.4" fill="#dd2e44"/><circle cx="792.7" cy="455" r="1.6" fill="#ffcc4d"/>
<rect x="785.5" y="458.4" width="6.6" height="4.1" fill="#e1e8ed"/><rect x="785.5" y="458.4" width="6.6" height="0.9" fill="#dd2e44"/>
<rect x="792.7" y="458.4" width="3.3" height="4.1" fill="#dd2e44"/><circle cx="794.35" cy="460.4" r="1.4" fill="#f4900c"/>
<g transform="rotate(45 327.55 766.25)"><path d="M327.55,762.9 H323.35 A3.35,3.35 0 0 0 323.35,769.6 H327.55 Z" fill="#ffcc4d"/><path d="M327.55,762.9 H331.75 A3.35,3.35 0 0 1 331.75,769.6 H327.55 Z" fill="#be1931"/><rect x="323.3" y="762.9" width="4.3" height="6.7" fill="#ffcc4d"/><rect x="327.5" y="762.9" width="4.3" height="6.7" fill="#be1931"/></g>
<rect x="395" y="798.9" width="11.8" height="12.6" rx="1.2" fill="#ccd6dd"/><rect x="397.2" y="799.9" width="9" height="10.8" fill="#e1e8ed"/>
<path d="M399.9,799.8 H404.2 V809.3 L402.05,807.6 L399.9,809.3 Z" fill="#dd2e44"/>
<path d="M481.15,876 V885.2 M476.6,878.1 Q481.15,876.8 485.7,878.1" stroke="#ffac33" stroke-width="1" fill="none"/>
<path d="M478.7,886.4 Q481.15,883.8 483.6,886.4 Z" fill="#ffac33"/>
<path d="M476.6,878.1 L475.3,882.2 M476.6,878.1 L477.9,882.2 M485.7,878.1 L484.4,882.2 M485.7,878.1 L487,882.2" stroke="#67757f" stroke-width="0.7" fill="none"/>
<path d="M475,882.2 Q476.6,884.6 478.2,882.2 Z M484.1,882.2 Q485.7,884.6 487.3,882.2 Z" fill="#ffac33"/>
<path d="M526.9,776.6 Q531,773.2 535.1,776.6 Z" fill="#3b5b8c"/><rect x="526.9" y="775.6" width="8.2" height="1.2" fill="#3b5b8c"/>
<rect x="526.9" y="777" width="1" height="4" fill="#ffac33"/><rect x="534.1" y="777" width="1" height="4" fill="#ffac33"/>
<circle cx="531" cy="779.3" r="2.6" fill="#ffdc5d"/><circle cx="530" cy="779" r="0.35" fill="#662113"/><circle cx="532" cy="779" r="0.35" fill="#662113"/>
<rect x="525" y="782.6" width="11.2" height="4.2" rx="0.9" fill="#e39f8a"/><rect x="532.2" y="783.2" width="4" height="3.6" fill="#f4663a"/><circle cx="526.3" cy="785.6" r="1" fill="#3b88c3"/><circle cx="527.3" cy="783.5" r="0.8" fill="#dd2e44"/>
<rect x="703.2" y="767.2" width="10.6" height="1.7" fill="#8899a6"/>
<path d="M709.8,767.3 Q712.6,766 712.4,762.6 Q712.2,760.8 711,760.2" fill="none" stroke="#8899a6" stroke-width="1.3"/>
<g transform="rotate(-40 709.5 759.5)"><rect x="707.4" y="756.6" width="4.2" height="6.2" fill="#aab8c2"/><rect x="707.4" y="760.2" width="4.2" height="1.4" fill="#e1e8ed"/><rect x="708.2" y="754.8" width="2.6" height="2" fill="#ccd6dd"/></g>
<line x1="702.6" y1="762.6" x2="707.4" y2="766.4" stroke="#66757f" stroke-width="1.2"/>
<text x="335.70" y="594.80" font-family="Liberation Sans, sans-serif" font-size="14.13" fill="#000" textLength="192.74" lengthAdjust="spacingAndGlyphs">Computer and Electoronics</text>
<text x="690.89" y="598.30" font-family="Liberation Sans, sans-serif" font-size="23.59" fill="#000" textLength="61.63" lengthAdjust="spacingAndGlyphs">News</text>
<text x="571.15" y="426.70" font-family="Liberation Sans, sans-serif" font-size="24.14" fill="#000" textLength="61.54" lengthAdjust="spacingAndGlyphs">Adult</text>
<text x="421.85" y="373.70" font-family="Liberation Sans, sans-serif" font-size="15.23" fill="#000" textLength="68.55" lengthAdjust="spacingAndGlyphs">Shopping</text>
<text x="713.24" y="411.70" font-family="Liberation Sans, sans-serif" font-size="17.97" fill="#000" textLength="50.80" lengthAdjust="spacingAndGlyphs">Game</text>
<text x="333.32" y="411.80" font-family="Liberation Sans, sans-serif" font-size="12.48" fill="#000" textLength="37.27" lengthAdjust="spacingAndGlyphs">Sports</text>
<text x="529.05" y="313.90" font-family="Liberation Sans, sans-serif" font-size="12.07" fill="#000" textLength="26.00" lengthAdjust="spacingAndGlyphs">Fin…</text>
<text x="660.87" y="333.00" font-family="Liberation Sans, sans-serif" font-size="12.48" fill="#000" textLength="31.58" lengthAdjust="spacingAndGlyphs">Unk…</text>
<text x="800.63" y="463.00" font-family="Liberation Sans, sans-serif" font-size="12.14" fill="#000" textLength="29.89" lengthAdjust="spacingAndGlyphs">Foo…</text>
<text x="337.60" y="770.80" font-family="Liberation Sans, sans-serif" font-size="11.52" fill="#000" textLength="24.97" lengthAdjust="spacingAndGlyphs">He…</text>
<text x="411.37" y="809.70" font-family="Liberation Sans, sans-serif" font-size="11.66" fill="#000" textLength="59.47" lengthAdjust="spacingAndGlyphs">Referenc…</text>
<text x="490.34" y="885.80" font-family="Liberation Sans, sans-serif" font-size="11.66" fill="#000" textLength="29.23" lengthAdjust="spacingAndGlyphs">Jud…</text>
<text x="539.12" y="784.90" font-family="Liberation Sans, sans-serif" font-size="11.66" fill="#000" textLength="113.57" lengthAdjust="spacingAndGlyphs">Arts, Entertainment</text>
<text x="717.15" y="766.90" font-family="Liberation Sans, sans-serif" font-size="12.48" fill="#000" textLength="46.97" lengthAdjust="spacingAndGlyphs">Science</text>
<rect x="0" y="1241" width="1080" height="1" fill="#000"/>
<text x="425.4" y="1310.2" font-family="Liberation Serif, serif" font-style="italic" font-size="35.5" fill="#000" stroke="#000" stroke-width="0.35" textLength="231.2" lengthAdjust="spacingAndGlyphs">@trafficispeople</text>
<line x1="908.7" y1="1300" x2="1036" y2="1300" stroke="#000" stroke-width="4.6" stroke-linecap="butt"/>
<path d="M1034.5,1292.5 L1045.2,1300 L1034.5,1307.5 Z" fill="#000" stroke="#000" stroke-width="2" stroke-linejoin="round"/>
</svg>
</body></html>
